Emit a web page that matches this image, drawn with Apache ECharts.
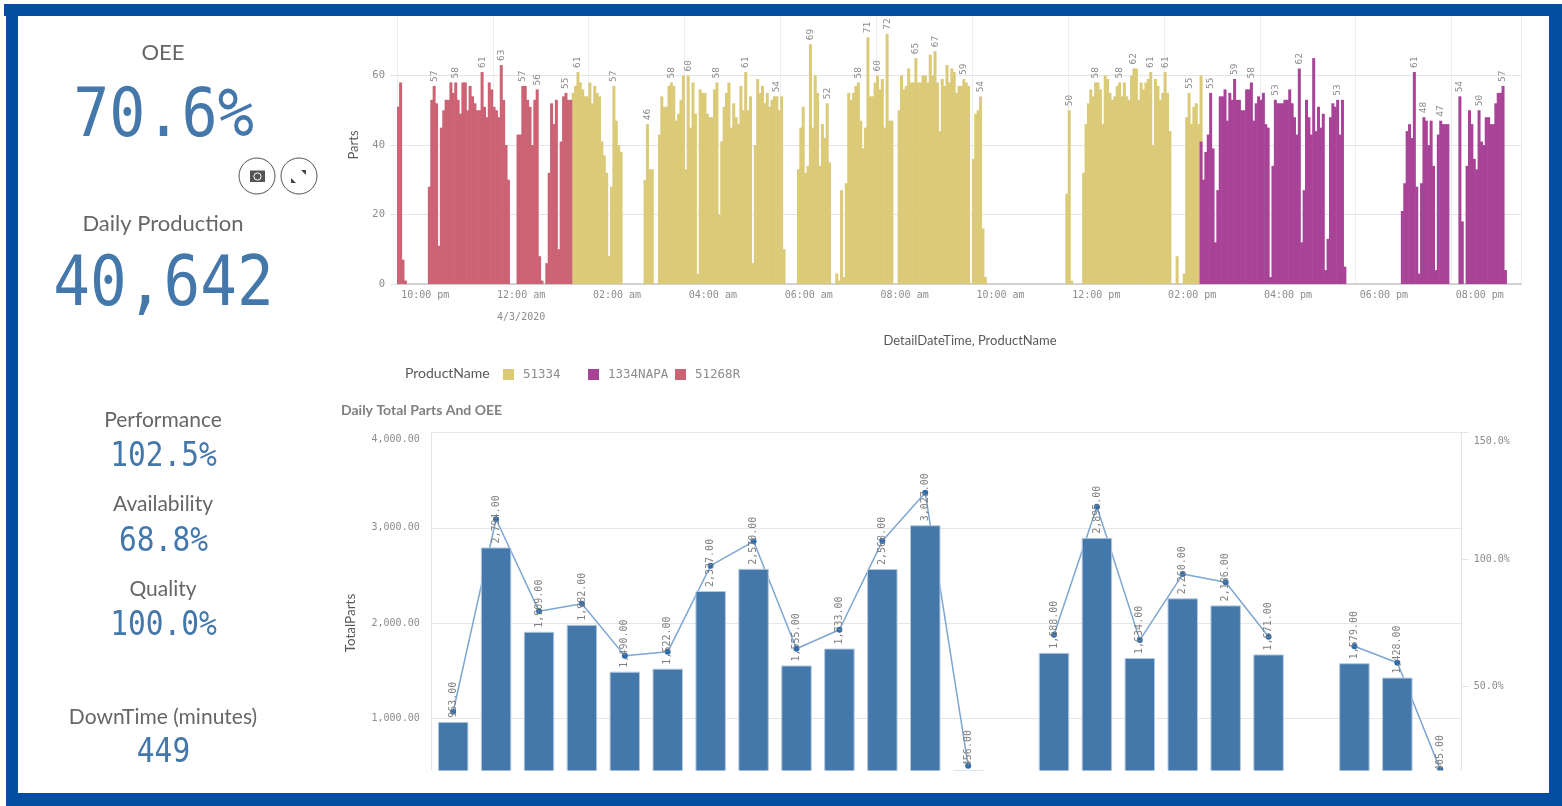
<!DOCTYPE html>
<html><head><meta charset="utf-8">
<style>html,body{margin:0;padding:0;background:#fff}#c{width:1562px;height:806px;filter:blur(0.45px)}</style>
<script src="https://cdn.jsdelivr.net/npm/echarts@6/dist/echarts.min.js"></script>
</head><body><div id="c"></div>
<script>
// Top chart: parts per 3-minute bin, runs as [first bin, values]
const tickLabels = ['10:00 pm','12:00 am','02:00 am','04:00 am','06:00 am','08:00 am','10:00 am','12:00 pm','02:00 pm','04:00 pm','06:00 pm','08:00 pm'];
const parts51268R = [
 [0,[51,58,7,1]],
 [13,[28,53,57,52,11,45,50,53,53,58,55,58,53,49,58,58,50,57,54,52,50,50,61,51,48,58,56,51,50,48,63,53,40,30]],
 [50,[43,43,57,57,53,51,40,53,56,8,1]],
 [62,[6,32,52,46,53,10,41,54,55,53,53]]
];
const parts51334 = [
 [73,[55,57,61,58,56,54,54,58,52,57,55,54,41,37,32,8,28,57,47,40,38]],
 [103,[30,46,33,33]],
 [109,[43,54,51,51,57,58,57,47,49,53,60,33,60,45,58,49,3,56,55,55,49,48,48,56,58,20,41,51,55,58,45,52,48,46,57,50,61,50,54,6,40,59,55,57,52,55,51,53,54,54,50,54,10]],
 [167,[33,45,51,32,34,69,45,60,55,34,46,42,52,35]],
 [183,[3,1,27,2,29,55,53,55,57,58,47,39,45,71,54,54,58,60,56,59,45,72,47,47]],
 [209,[50,60,56,57,62,58,58,65,58,58,60,60,58,66,60,67,58,44,59,57,63,58,62,61,55,57,57,59,58,57]],
 [240,[36,49,50,54,16,2]],
 [279,[26,50,1]],
 [286,[32,46,52,56,54,58,58,56,46,60,59,55,53,54,57,58,54,58,54,53,60,62,62,53,58,56,58,59,61,40,59,57,53,55,61,55,44]],
 [325,[8]],
 [328,[3,48,55,46,51,52,46,60]]
];
const parts1334NAPA = [
 [335,[41,30,38,43,55,39,12,27,54,54,56,47,55,53,59,53,53,50,50,56,56,58,47,52,54,53,55,46,45,2,34,53,52,52,52,53,53,56,52,48,43,62,12,27,53,48,43,65,44,51,45,49,4,13,48,52,51,53,43,53,5]],
 [419,[21,29,44,46,42,61,28,3,29,48,47,40,47,34,4,43,47,46,46,46]],
 [443,[54,18]],
 [446,[34,50,46,36,33,50,41,40,48,48,46,46,52,55,55,57,4]]
];
const labelled51268R = [15,24,35,43,52,58,70];
const labelled51334 = [75,90,104,114,121,133,145,158,172,179,192,196,200,204,216,224,236,243,280,291,301,307,314,320,330];
const labelled1334NAPA = [339,349,356,366,376,392,424,428,435,443,451,461];
const binCount = 469;

// Bottom chart
const hours = ['0','1','2','3','4','5','6','7','8','9','10','11','12','13','14','15','16','17','18','19','20','21','22','23'];
const totalParts = [963,2794,1909,1982,1490,1522,2337,2570,1555,1733,2568,3027,456,null,1688,2895,1634,2260,2186,1671,null,1579,1428,405];
const oeePercent = [40.1,115.9,79.7,82.6,62.1,63.7,97.6,107.2,64.9,72.4,107.3,126.3,18.8,null,70.4,120.8,68.3,94.3,91.1,69.6,null,65.9,59.4,17.4];

// KPI panel
const kpiNames = ['OEE','Daily Production','Performance','Availability','Quality','DownTime (minutes)'];
const kpiValues = ['70.6%','40,642','102.5%','68.8%','100.0%','449'];

const MONO = '"DejaVu Sans Mono"', SANS = 'Lato';
const GOLD='#dbca78', PURPLE='#a84397', RED='#cc6374', BLUE='#4477aa', BORDER='#034ea2';

function expand(runs, labelled){
  const out = new Array(binCount).fill(0);
  runs.forEach(([s,v])=>v.forEach((x,k)=>out[s+k]=x));
  return out.map((v,i)=>labelled.includes(i)?{value:v,label:{show:true}}:v);
}
const bins = Array.from({length:binCount},(_,i)=>String(i));
const peakLabel = {show:false,position:'top',rotate:90,align:'left',verticalAlign:'middle',distance:4,
  fontFamily:MONO,fontSize:9.5,color:'#8c8c8c',formatter:'{c}'};
function partsSeries(name,color,runs,labelled){
  return {name,type:'bar',xAxisIndex:0,yAxisIndex:0,data:expand(runs,labelled),barWidth:3,barGap:'-100%',
    itemStyle:{color},label:peakLabel,emphasis:{disabled:true},silent:true};
}
function txt(text,x,y,o){
  return Object.assign({type:'text',x,y,z:120,silent:true,style:Object.assign({text,align:'center',verticalAlign:'middle',fill:'#666',fontFamily:SANS,fontSize:21},o&&o.style)},o&&o.el);
}
const kpiY = [[53,118,60,1.2],[224,287,61,1.2],[420,457,29.5,.5],[504,542,29.5,.5],[589,626,29.5,.5],[717,753,29.5,.5]];
const kpiGraphics = [];
kpiNames.forEach((n,i)=>{
  const [ly,vy,fs,sw]=kpiY[i];
  kpiGraphics.push(txt(n,163,ly,{style:{fontSize:i<2?22:21}}));
  kpiGraphics.push(txt(kpiValues[i],163.5,vy,{style:{fill:'#4477aa',fontFamily:MONO,fontSize:fs,stroke:'#fff',lineWidth:sw},el:{scaleY:1.13}}));
});
function rect(x,y,w,h,fill,z){return {type:'rect',z:z||110,silent:true,shape:{x,y,width:w,height:h},style:{fill}};}
const circleIcon=(cx)=>({type:'circle',z:115,silent:true,shape:{cx,cy:176,r:18},style:{fill:'#fff',stroke:'#555',lineWidth:1}});
const graphics=[
  rect(18,770.5,1531,23,'#fff',110),
  rect(4,4,1558,12,BORDER,112),
  rect(6,4,12,802,BORDER,112),
  rect(6,793,1556,13,BORDER,112),
  rect(1549,4,13,802,BORDER,112),
  circleIcon(257),circleIcon(299),
  rect(250,170.5,15,11.5,'#555',116),
  {type:'circle',z:117,silent:true,shape:{cx:257.5,cy:176.5,r:3.6},style:{fill:'#555',stroke:'#fff',lineWidth:1}},
  {type:'polygon',z:116,silent:true,shape:{points:[[306,170],[306,175],[301,170]]},style:{fill:'#444'}},
  {type:'polygon',z:116,silent:true,shape:{points:[[291,183],[291,178],[296,183]]},style:{fill:'#444'}},
  txt('ProductName',405,373,{style:{align:'left',fontSize:14,fill:'#595959'}}),
  txt('DetailDateTime, ProductName',970,341,{style:{fontSize:13,fill:'#595959'}}),
  txt('Daily Total Parts And OEE',341,410,{style:{align:'left',fontSize:14,fontWeight:'bold',fill:'#808080'}}),
  ...kpiGraphics
];
const leg=(name,left)=>({data:[name],left,top:368,itemWidth:11,itemHeight:11,padding:0,icon:'rect',selectedMode:false,
  textStyle:{fontFamily:MONO,fontSize:12.5,color:'#8c8c8c',padding:[0,0,0,4]}});
const axisNum=(v)=>v.toLocaleString('en-US',{minimumFractionDigits:2,maximumFractionDigits:2});
const option={
  animation:false,backgroundColor:'#fff',
  graphic:{elements:graphics},
  legend:[leg('51334',503),leg('1334NAPA',588),leg('51268R',675)],
  grid:[
    {left:397,top:6,width:1124,height:278,outerBoundsMode:'none'},
    {left:431.7,top:432.6,width:1030,height:381,outerBoundsMode:'none'}
  ],
  xAxis:[
    {type:'category',gridIndex:0,data:bins,
      axisLine:{lineStyle:{color:'#c8c8c8',width:1.5}},
      axisTick:{interval:(i)=>i%40===0,length:22,lineStyle:{color:'#e8e8e8'}},
      splitLine:{show:true,interval:(i)=>i%40===0,lineStyle:{color:'#ededed'}},
      axisLabel:{interval:(i)=>i%40===0,formatter:(v,i)=>tickLabels[i/40]||'',align:'left',padding:[0,0,0,3],margin:6,
        fontFamily:MONO,fontSize:10,color:'#8c8c8c'}},
    {type:'category',gridIndex:0,position:'bottom',data:bins,axisLine:{show:false},
      axisTick:{interval:(i)=>i===40,length:46,lineStyle:{color:'#e8e8e8'}},
      axisLabel:{interval:(i)=>i===40,formatter:(v,i)=>i===40?'4/3/2020':'',align:'left',padding:[0,0,0,3],margin:28,
        fontFamily:MONO,fontSize:10,color:'#8c8c8c'}},
    {type:'category',gridIndex:1,data:hours,show:false}
  ],
  yAxis:[
    {type:'value',gridIndex:0,min:0,max:80,interval:20,name:'Parts',nameLocation:'middle',nameGap:37,
      nameTextStyle:{fontFamily:SANS,fontSize:13,color:'#595959'},
      axisLine:{show:false},axisTick:{show:true,length:7,lineStyle:{color:'#e4e4e4'}},
      splitLine:{lineStyle:{color:'#e4e4e4',width:1.2}},
      axisLabel:{margin:12,fontFamily:MONO,fontSize:10.5,color:'#8c8c8c',formatter:(v)=>v===80?'':String(v)}},
    {type:'value',gridIndex:1,min:0,max:4000,interval:1000,name:'TotalParts',nameLocation:'middle',nameGap:74,
      nameTextStyle:{fontFamily:SANS,fontSize:13.5,color:'#595959'},
      axisLine:{show:true,lineStyle:{color:'#e4e4e4',width:1.2}},axisTick:{show:false},
      splitLine:{lineStyle:{color:'#e6e6e6',width:1.2}},
      axisLabel:{margin:12,fontFamily:MONO,fontSize:10,color:'#8c8c8c',verticalAlignMaxLabel:'top',
        formatter:(v)=>v===4000?'{m|'+axisNum(v)+'}':axisNum(v),
        rich:{m:{fontFamily:MONO,fontSize:10,color:'#8c8c8c',padding:[2,0,0,0]}}}},
    {type:'value',gridIndex:1,position:'right',min:0,max:150,interval:50,
      axisLine:{show:true,lineStyle:{color:'#e4e4e4',width:1.2}},axisTick:{show:true,length:7,lineStyle:{color:'#e4e4e4'}},
      splitLine:{show:false},
      axisLabel:{margin:12,fontFamily:MONO,fontSize:10,color:'#8c8c8c',verticalAlignMaxLabel:'top',
        formatter:(v)=>v===150?'{m|150.0%}':v.toFixed(1)+'%',
        rich:{m:{fontFamily:MONO,fontSize:10,color:'#8c8c8c',padding:[4,0,0,0]}}}}
  ],
  series:[
    partsSeries('51334',GOLD,parts51334,labelled51334),
    partsSeries('1334NAPA',PURPLE,parts1334NAPA,labelled1334NAPA),
    partsSeries('51268R',RED,parts51268R,labelled51268R),
    {type:'line',name:'OEE',xAxisIndex:2,yAxisIndex:2,data:oeePercent,z:1,connectNulls:false,
      symbol:'circle',symbolSize:6,showSymbol:true,
      lineStyle:{color:'#7da6d2',width:1.5},itemStyle:{color:'#2b6db0'},silent:true},
    {type:'bar',name:'TotalParts',xAxisIndex:2,yAxisIndex:1,data:totalParts,z:2,barWidth:'71%',silent:true,
      itemStyle:{color:BLUE,borderColor:'#b5c9de',borderWidth:1},
      label:{show:true,position:'top',rotate:90,align:'left',verticalAlign:'middle',distance:4,fontFamily:MONO,fontSize:10,color:'#808080',
        formatter:(p)=>axisNum(p.value)}}
  ]
};
echarts.init(document.getElementById('c')).setOption(option);
</script></body></html>
